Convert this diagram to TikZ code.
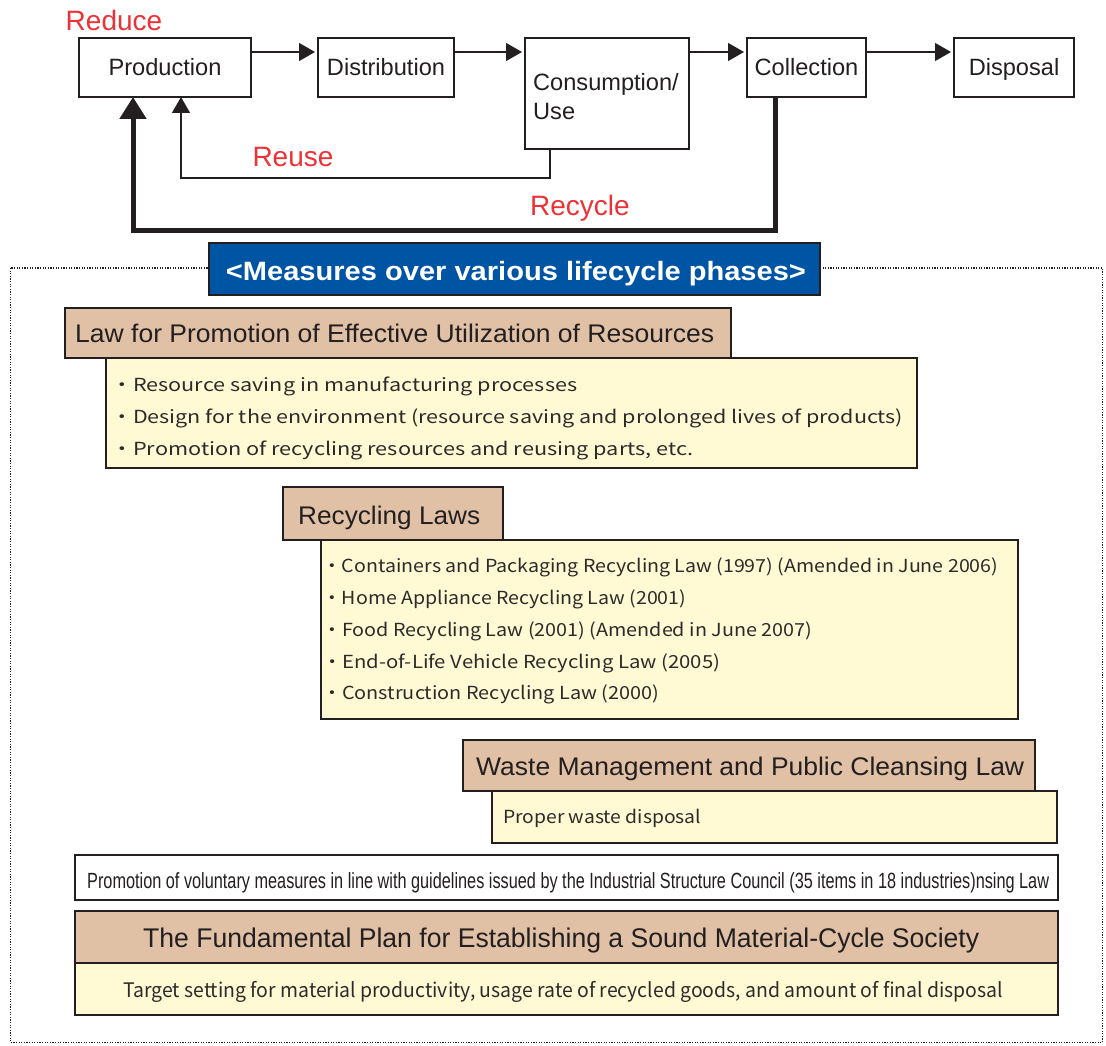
\documentclass[tikz,border=0pt]{standalone}
\usepackage{fontspec}
\usepackage{graphicx}
\setmainfont{Liberation Sans}
\newfontfamily\jpfont{Noto Sans CJK JP}
\usetikzlibrary{arrows.meta}

\definecolor{ink}{RGB}{35,31,32}
\definecolor{bodyink}{RGB}{45,42,42}
\definecolor{tanfill}{RGB}{225,193,166}
\definecolor{bodyfill}{RGB}{255,249,212}
\definecolor{headblue}{RGB}{0,84,164}
\definecolor{labelred}{RGB}{237,50,55}

% squeeze a line of text to a given width, keeping its height
\newcommand{\fitw}[2]{\resizebox{#1}{\height}{#2}}
\newcommand{\bul}{\kern-0.4em・}

\begin{document}
\begin{tikzpicture}[x=1pt,y=-1pt,
  box/.style={draw=ink, line width=1.5pt, inner sep=0pt, outer sep=0pt, anchor=center, text=ink},
  flowbox/.style={box, fill=white, font=\fontsize{23.6}{29}\selectfont, text height=17pt, text depth=0pt},
  titlebox/.style={box, fill=tanfill, line width=2pt},
  bodybox/.style={box, fill=bodyfill},
  plainbox/.style={box, fill=white},
  titletext/.style={inner sep=0pt, anchor=base west, text=ink, font=\fontsize{25.5}{30}\selectfont},
  bodytext/.style={inner sep=0pt, anchor=base west, text=bodyink, font=\jpfont\fontsize{18}{22}\selectfont},
  redlabel/.style={inner sep=0pt, anchor=base, text=labelred, font=\fontsize{28}{32}\selectfont},
  flow/.style={draw=ink, line width=1.3pt, shorten >=3pt, -{Triangle[length=16pt,width=18pt]}},
  loopback/.style={draw=ink, line width=1.3pt, -{Triangle[length=16pt,width=18pt]}},
  thickloop/.style={draw=ink, line width=5pt, -{Triangle[length=22pt,width=26pt]}},
  panelframe/.style={draw=ink, line width=1.4pt, dash pattern=on 1.2pt off 1.4pt},
]
\useasboundingbox (0,0) rectangle (1106,1046);
\fill[white] (0,0) rectangle (1106,1046);

% ---------- lifecycle flow ----------
\node[flowbox, minimum width=172, minimum height=59] (prod) at (165,67.5) {Production};
\node[flowbox, minimum width=136, minimum height=59] (dist) at (386,67.5) {Distribution};
\node[box, fill=white, minimum width=164, minimum height=111] (cons) at (607,93.5) {};
\node[inner sep=0pt, align=left, text=ink, font=\fontsize{23.6}{29}\selectfont] (constxt) at (606,96.5) {Consumption/\\Use};
\node[flowbox, minimum width=119, minimum height=59] (coll) at (806.5,67.5) {Collection};
\node[flowbox, minimum width=120, minimum height=59] (disp) at (1014,67.5) {Disposal};

\draw[flow] ([yshift=-14pt]prod.north east) -- ([yshift=-14pt]dist.north west);
\draw[flow] ([yshift=-14pt]dist.north east) -- ([yshift=-14pt]cons.north west);
\draw[flow] ([yshift=-14pt]cons.north east) -- ([yshift=-14pt]coll.north west);
\draw[flow] ([yshift=-14pt]coll.north east) -- ([yshift=-14pt]disp.north west);

\coordinate (reusecorner) at (181,178);
\draw[loopback] ([xshift=25pt]cons.south west) |- (reusecorner) -- ([xshift=102pt]prod.south west);

\coordinate (recyclecorner) at (133,230);
\draw[thickloop] ([xshift=28pt]coll.south west) |- (recyclecorner) -- ([xshift=54pt]prod.south west);

\node[redlabel] (reduce) at (114,31) {Reduce};
\node[redlabel] (reuse) at (293,167) {Reuse};
\node[redlabel] (recycle) at (580,215) {Recycle};

% ---------- measures panel ----------
\draw[panelframe] (10.5,268) rectangle (1102.5,1042.5);

\node[box, fill=headblue, line width=1.5pt, minimum width=611, minimum height=52] (hdr) at (514.5,269) {};
\node[inner sep=0pt, anchor=base, text=white, font=\bfseries\fontsize{26.5}{30}\selectfont] (hdrtxt) at (516,280)
  {\fitw{580pt}{<Measures over various lifecycle phases>}};

% Law for Promotion of Effective Utilization of Resources
\node[bodybox, minimum width=811, minimum height=110] (lawAbody) at (511.5,413) {};
\node[titlebox, minimum width=666, minimum height=50] (lawA) at (398,333) {};
\node[titletext] (lawAtxt) at (75,342) {\fitw{639pt}{Law for Promotion of Effective Utilization of Resources}};
\node[bodytext] (lawA1) at (120,391) {\fitw{457pt}{\bul Resource saving in manufacturing processes}};
\node[bodytext] (lawA2) at (120,423) {\fitw{783pt}{\bul Design for the environment (resource saving and prolonged lives of products)}};
\node[bodytext] (lawA3) at (120,455) {\fitw{573pt}{\bul Promotion of recycling resources and reusing parts, etc.}};

% Recycling Laws
\node[bodybox, minimum width=697, minimum height=179] (rlbody) at (669.5,629.5) {};
\node[titlebox, minimum width=220, minimum height=53] (rl) at (393,513.5) {};
\node[titletext] (rltxt) at (298,524) {\fitw{182pt}{Recycling Laws}};
\node[bodytext] (rl1) at (330,572) {\fitw{668pt}{\bul Containers and Packaging Recycling Law (1997) (Amended in June 2006)}};
\node[bodytext] (rl2) at (330,604) {\fitw{356pt}{\bul Home Appliance Recycling Law (2001)}};
\node[bodytext] (rl3) at (330,636) {\fitw{482pt}{\bul Food Recycling Law (2001) (Amended in June 2007)}};
\node[bodytext] (rl4) at (330,668) {\fitw{390pt}{\bul End-of-Life Vehicle Recycling Law (2005)}};
\node[bodytext] (rl5) at (330,699) {\fitw{329pt}{\bul Construction Recycling Law (2000)}};

% Waste Management and Public Cleansing Law
\node[bodybox, minimum width=565, minimum height=52] (wastebody) at (774.5,817) {};
\node[titlebox, minimum width=572, minimum height=51] (waste) at (749,765.5) {};
\node[titletext] (wastetxt) at (476,775) {\fitw{548pt}{Waste Management and Public Cleansing Law}};
\node[bodytext] (waste1) at (503,823) {\fitw{198pt}{Proper waste disposal}};

% voluntary measures
\node[plainbox, minimum width=983, minimum height=45] (vol) at (566.5,877.5) {};
\node[inner sep=0pt, anchor=base west, text=ink, font=\fontsize{22}{26}\selectfont] (voltxt) at (87,888)
  {\fitw{962pt}{Promotion of voluntary measures in line with guidelines issued by the Industrial Structure Council (35 items in 18 industries)nsing Law}};

% Fundamental Plan
\node[bodybox, minimum width=983, minimum height=52] (fundbody) at (566.5,989) {};
\node[titlebox, minimum width=983, minimum height=52] (fund) at (566.5,937) {};
\node[titletext, font=\fontsize{27}{32}\selectfont] (fundtxt) at (143,947) {\fitw{836pt}{The Fundamental Plan for Establishing a Sound Material-Cycle Society}};
\node[bodytext, font=\jpfont\fontsize{20}{24}\selectfont] (fund1) at (123,997) {\fitw{880pt}{Target setting for material productivity, usage rate of recycled goods, and amount of final disposal}};
\end{tikzpicture}
\end{document}
